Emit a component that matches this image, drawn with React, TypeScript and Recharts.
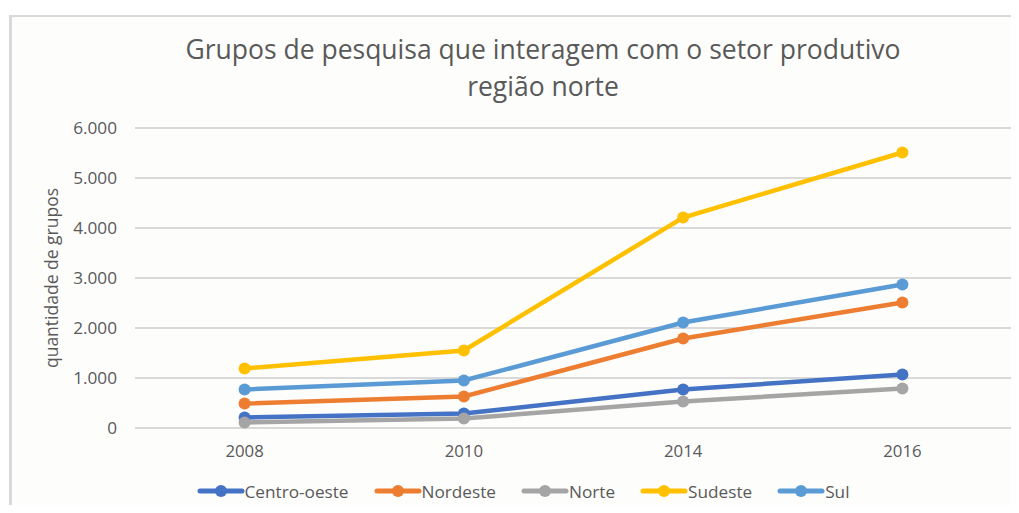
import { LineChart, Line, XAxis, YAxis, CartesianGrid, Legend, Label } from "recharts";

const years = ["2008", "2010", "2014", "2016"];
const centroOeste = [210, 290, 770, 1070];
const nordeste = [490, 630, 1790, 2510];
const norte = [110, 190, 530, 790];
const sudeste = [1190, 1550, 4210, 5510];
const sul = [770, 950, 2110, 2870];
const yTicks = [0, 1000, 2000, 3000, 4000, 5000, 6000];
const boundaryTicks = [0, 1, 2, 3, 4];

const series = [
  { key: "Centro-oeste", values: centroOeste, color: "#4472C4" },
  { key: "Nordeste", values: nordeste, color: "#ED7D31" },
  { key: "Norte", values: norte, color: "#A5A5A5" },
  { key: "Sudeste", values: sudeste, color: "#FFC000" },
  { key: "Sul", values: sul, color: "#5B9BD5" },
];

const data = years.map((year, i) => {
  const row: any = { year };
  series.forEach((s) => (row[s.key] = s.values[i]));
  return row;
});

const FONT = "'Open Sans', Lato, sans-serif";
const TEXT = "#595959";

const fmt = (v: number) => (v === 0 ? "0" : `${v / 1000}.000`);

const LegendContent = () => (
  <div style={{ height: 30, display: "flex", justifyContent: "center", alignItems: "center", fontFamily: FONT, fontSize: 17.2, color: TEXT, paddingLeft: 34 }}>
    {series.map((s, i) => (
      <div key={s.key} style={{ display: "flex", alignItems: "center", marginRight: i < series.length - 1 ? 25 : 0 }}>
        <svg width={48} height={14}>
          <line x1={3} y1={7} x2={45} y2={7} stroke={s.color} strokeWidth={5} strokeLinecap="round" />
          <circle cx={24} cy={7} r={6} fill={s.color} />
        </svg>
        <span>{s.key}</span>
      </div>
    ))}
  </div>
);

export default function App() {
  return (
    <div style={{ position: "relative", margin: -8, width: 1019, height: 513, overflow: "hidden", background: "#ffffff" }}>
      <div
        style={{
          position: "absolute",
          left: 9,
          top: 15,
          width: 1020,
          height: 510,
          borderLeft: "3px solid #d9d9d9",
          borderTop: "2px solid #d9d9d9",
          background: "#fdfdfc",
        }}
      />
      <div style={{ position: "absolute", left: 0, top: 31, width: 1086, textAlign: "center", fontFamily: FONT, fontSize: 26.5, lineHeight: "37px", color: TEXT }}>
        Grupos de pesquisa que interagem com o setor produtivo
        <br />
        região norte
      </div>
      <div style={{ position: "absolute", left: 0, top: 0 }}>
        <LineChart width={1019} height={513} data={data} margin={{ top: 128, right: 7, bottom: 7, left: 0 }}>
          <CartesianGrid vertical={false} stroke="#d9d9d9" strokeWidth={2} />
          <XAxis
            xAxisId="marks"
            type="number"
            domain={[0, 4]}
            ticks={boundaryTicks}
            tick={false}
            height={0}
            stroke="#d9d9d9"
            strokeWidth={2}
            tickSize={6}
          />
          <XAxis
            xAxisId="cat"
            dataKey="year"
            padding={{ left: 109.6, right: 109.6 }}
            axisLine={false}
            tickLine={false}
            tickSize={0}
            tickMargin={17}
            height={48}
            tick={{ fill: TEXT, fontSize: 16.8, fontFamily: FONT }}
          />
          <YAxis
            width={135}
            domain={[0, 6000]}
            ticks={yTicks}
            tickFormatter={fmt}
            axisLine={false}
            tickLine={false}
            tickSize={0}
            tickMargin={18}
            tick={{ fill: TEXT, fontSize: 17.2, fontFamily: FONT }}
          >
            <Label
              value="quantidade de grupos"
              angle={-90}
              position="insideLeft"
              offset={52}
              style={{ fill: TEXT, fontSize: 17.5, fontFamily: FONT, textAnchor: "middle" }}
            />
          </YAxis>
          <Legend verticalAlign="bottom" content={<LegendContent />} />
          {series.map((s) => (
            <Line
              key={s.key}
              xAxisId="cat"
              dataKey={s.key}
              stroke={s.color}
              strokeWidth={4.5}
              dot={{ r: 6, fill: s.color, stroke: s.color, strokeWidth: 0 }}
              activeDot={false}
              isAnimationActive={false}
            />
          ))}
        </LineChart>
      </div>
    </div>
  );
}
